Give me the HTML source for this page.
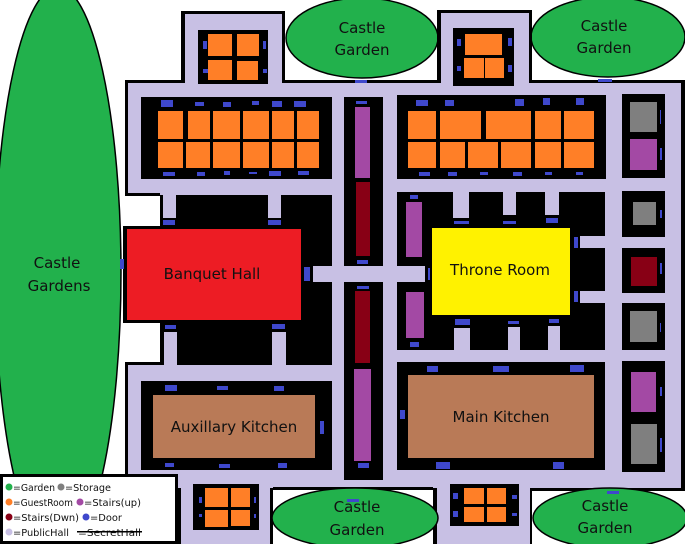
<!DOCTYPE html>
<html><head><meta charset="utf-8"><style>
html,body{margin:0;padding:0;background:#fff;}
svg{display:block}
text{font-family:"DejaVu Sans","Liberation Sans",sans-serif;fill:#111;}
</style></head><body>
<svg width="685" height="544" viewBox="0 0 685 544" xmlns="http://www.w3.org/2000/svg">
<ellipse cx="58" cy="272" rx="63" ry="285" fill="#22b14c" stroke="#000" stroke-width="1.5"/>
<ellipse cx="362" cy="38" rx="76" ry="40" fill="#22b14c" stroke="#000" stroke-width="1.5"/>
<ellipse cx="608" cy="37" rx="77" ry="40" fill="#22b14c" stroke="#000" stroke-width="1.5"/>
<g fill="#000">
<rect x="125" y="80" width="560" height="413"/>
<rect x="181" y="11" width="104" height="75"/>
<rect x="437" y="10" width="95" height="76"/>
<rect x="177" y="470" width="96" height="74"/>
<rect x="433" y="470" width="101" height="74"/>
</g>
<g fill="#c8c0e4">
<rect x="128" y="83" width="553" height="405"/>
<rect x="185" y="14" width="97" height="72"/>
<rect x="441" y="13" width="88" height="73"/>
<rect x="181" y="470" width="89" height="74"/>
<rect x="437" y="470" width="93" height="74"/>
</g>
<rect x="122" y="196" width="38" height="31" fill="#fff"/>
<rect x="122" y="323" width="38" height="40" fill="#fff"/>
<rect x="125" y="193" width="35" height="3" fill="#000"/>
<rect x="125" y="362" width="35" height="3" fill="#000"/>
<rect x="273" y="488" width="160" height="56" fill="#fff"/>
<rect x="273" y="487" width="160" height="3" fill="#000"/>
<rect x="532" y="490" width="153" height="54" fill="#fff"/>
<rect x="532" y="488" width="153" height="3" fill="#000"/>
<ellipse cx="355" cy="518" rx="83" ry="30" fill="#22b14c" stroke="#000" stroke-width="1.5"/>
<ellipse cx="610" cy="518" rx="77" ry="30" fill="#22b14c" stroke="#000" stroke-width="1.5"/>

<g fill="#000">
<rect x="198" y="30" width="70" height="54"/>
<rect x="453" y="28" width="61" height="58"/>
<rect x="193" y="484" width="66" height="46"/>
<rect x="450" y="484" width="69" height="42"/>
<rect x="141" y="97" width="191" height="82"/>
<rect x="344" y="97" width="39" height="169"/>
<rect x="344" y="282" width="39" height="198"/>
<rect x="397" y="95" width="209" height="84"/>
<rect x="622" y="94" width="43" height="84"/>
<rect x="622" y="191" width="43" height="46"/>
<rect x="622" y="248" width="43" height="45"/>
<rect x="622" y="303" width="43" height="47"/>
<rect x="622" y="361" width="43" height="111"/>
<rect x="160" y="195" width="172" height="170"/>
<rect x="123" y="226" width="183" height="97"/>
<rect x="397" y="192" width="208" height="158"/>
<rect x="141" y="381" width="191" height="89"/>
<rect x="397" y="362" width="208" height="108"/>
</g>
<g fill="#c8c0e4">
<rect x="163" y="195" width="13" height="23"/>
<rect x="268" y="195" width="13" height="23"/>
<rect x="164" y="332" width="13" height="33"/>
<rect x="272" y="332" width="14" height="33"/>
<rect x="313" y="266" width="112" height="16"/>
<rect x="453" y="192" width="16" height="26"/>
<rect x="503" y="192" width="13" height="23"/>
<rect x="545" y="192" width="14" height="23"/>
<rect x="580" y="236" width="25" height="12"/>
<rect x="580" y="291" width="25" height="12"/>
<rect x="454" y="328" width="16" height="22"/>
<rect x="508" y="327" width="12" height="23"/>
<rect x="548" y="326" width="12" height="24"/>
<rect x="397" y="268" width="10" height="14"/>
</g>
<g fill="#ff7f27">
<rect x="208" y="34" width="24" height="22"/><rect x="237" y="34" width="22" height="22"/>
<rect x="208" y="60" width="24" height="20"/><rect x="237" y="61" width="21" height="19"/>
<rect x="465" y="34" width="20" height="21"/><rect x="485" y="34" width="17" height="21"/>
<rect x="464" y="58" width="20" height="20"/><rect x="485" y="58" width="19" height="20"/>
<rect x="205" y="488" width="23" height="19"/><rect x="231" y="488" width="19" height="19"/>
<rect x="205" y="510" width="23" height="17"/><rect x="231" y="510" width="19" height="16"/>
<rect x="464" y="488" width="20" height="16"/><rect x="487" y="488" width="19" height="16"/>
<rect x="464" y="507" width="20" height="15"/><rect x="487" y="507" width="19" height="15"/>
<rect x="158" y="111" width="25" height="28"/><rect x="188" y="111" width="22" height="28"/><rect x="213" y="111" width="27" height="28"/><rect x="243" y="111" width="26" height="28"/><rect x="272" y="111" width="22" height="28"/><rect x="297" y="111" width="22" height="28"/>
<rect x="158" y="142" width="25" height="26"/><rect x="186" y="142" width="24" height="26"/><rect x="213" y="142" width="27" height="26"/><rect x="243" y="142" width="26" height="26"/><rect x="272" y="142" width="22" height="26"/><rect x="297" y="142" width="22" height="26"/>
<rect x="408" y="111" width="28" height="28"/><rect x="440" y="111" width="41" height="28"/><rect x="486" y="111" width="45" height="28"/><rect x="535" y="111" width="26" height="28"/><rect x="564" y="111" width="30" height="28"/>
<rect x="408" y="142" width="28" height="26"/><rect x="440" y="142" width="25" height="26"/><rect x="468" y="142" width="30" height="26"/><rect x="501" y="142" width="30" height="26"/><rect x="535" y="142" width="26" height="26"/><rect x="564" y="142" width="30" height="26"/>
</g>
<g>
<rect x="355" y="107" width="15" height="71" fill="#a349a4"/>
<rect x="356" y="182" width="14" height="74" fill="#880015"/>
<rect x="355" y="291" width="15" height="72" fill="#880015"/>
<rect x="354" y="369" width="17" height="92" fill="#a349a4"/>
<rect x="406" y="202" width="16" height="55" fill="#a349a4"/>
<rect x="406" y="292" width="18" height="46" fill="#a349a4"/>
<rect x="630" y="102" width="27" height="30" fill="#7f7f7f"/>
<rect x="630" y="139" width="27" height="31" fill="#a349a4"/>
<rect x="633" y="202" width="23" height="23" fill="#7f7f7f"/>
<rect x="631" y="257" width="26" height="29" fill="#880015"/>
<rect x="630" y="311" width="27" height="31" fill="#7f7f7f"/>
<rect x="631" y="372" width="25" height="40" fill="#a349a4"/>
<rect x="631" y="424" width="26" height="40" fill="#7f7f7f"/>
</g>
<rect x="127" y="229" width="174" height="91" fill="#ed1c24"/>
<rect x="432" y="228" width="138" height="87" fill="#fff200"/>
<rect x="153" y="395" width="162" height="63" fill="#b97a57"/>
<rect x="408" y="375" width="186" height="83" fill="#b97a57"/>
<g fill="#3f48cc">
<rect x="203" y="41" width="4" height="8"/><rect x="263" y="41" width="3" height="8"/><rect x="203" y="69" width="5" height="4"/><rect x="263" y="69" width="4" height="4"/>
<rect x="457" y="39" width="4" height="7"/><rect x="508" y="38" width="4" height="8"/><rect x="457" y="66" width="4" height="5"/><rect x="508" y="65" width="4" height="7"/>
<rect x="355" y="80" width="12" height="3"/><rect x="598" y="79" width="14" height="3"/>
<rect x="161" y="100" width="12" height="7"/><rect x="195" y="102" width="9" height="4"/><rect x="223" y="102" width="8" height="5"/><rect x="252" y="101" width="7" height="4"/><rect x="272" y="101" width="10" height="6"/><rect x="294" y="101" width="12" height="6"/>
<rect x="163" y="172" width="12" height="4"/><rect x="197" y="172" width="8" height="4"/><rect x="224" y="171" width="6" height="4"/><rect x="249" y="172" width="8" height="2"/><rect x="269" y="171" width="12" height="5"/><rect x="298" y="171" width="11" height="4"/>
<rect x="356" y="101" width="11" height="3"/><rect x="357" y="260" width="11" height="4"/><rect x="357" y="286" width="12" height="3"/><rect x="358" y="463" width="11" height="5"/>
<rect x="416" y="100" width="12" height="6"/><rect x="445" y="100" width="9" height="6"/><rect x="515" y="99" width="9" height="7"/><rect x="543" y="98" width="7" height="7"/><rect x="576" y="98" width="8" height="7"/>
<rect x="419" y="172" width="11" height="4"/><rect x="448" y="172" width="9" height="4"/><rect x="480" y="172" width="8" height="3"/><rect x="513" y="172" width="9" height="4"/><rect x="545" y="172" width="7" height="3"/><rect x="576" y="172" width="7" height="3"/>
<rect x="660" y="110" width="1" height="14"/><rect x="660" y="148" width="2" height="12"/><rect x="660" y="210" width="2" height="8"/><rect x="660" y="263" width="2" height="11"/><rect x="660" y="323" width="1" height="9"/><rect x="660" y="387" width="2" height="9"/><rect x="660" y="438" width="2" height="14"/>
<rect x="163" y="220" width="12" height="5"/><rect x="268" y="220" width="13" height="5"/><rect x="165" y="325" width="11" height="4"/><rect x="272" y="324" width="13" height="5"/>
<rect x="120" y="259" width="4" height="10"/><rect x="304" y="267" width="6" height="14"/>
<rect x="410" y="195" width="8" height="4"/><rect x="410" y="342" width="9" height="5"/><rect x="428" y="268" width="2" height="12"/>
<rect x="454" y="221" width="15" height="3"/><rect x="503" y="221" width="13" height="3"/><rect x="546" y="218" width="12" height="5"/>
<rect x="574" y="237" width="4" height="11"/><rect x="574" y="291" width="4" height="11"/>
<rect x="455" y="319" width="15" height="6"/><rect x="508" y="321" width="11" height="3"/><rect x="549" y="319" width="10" height="4"/>
<rect x="165" y="385" width="12" height="6"/><rect x="217" y="386" width="11" height="4"/><rect x="274" y="386" width="10" height="5"/>
<rect x="165" y="463" width="9" height="4"/><rect x="219" y="464" width="11" height="4"/><rect x="278" y="463" width="9" height="5"/>
<rect x="320" y="421" width="4" height="13"/>
<rect x="427" y="366" width="11" height="6"/><rect x="493" y="366" width="16" height="6"/><rect x="570" y="365" width="14" height="7"/>
<rect x="400" y="410" width="5" height="9"/><rect x="436" y="462" width="14" height="7"/><rect x="553" y="462" width="11" height="7"/>
<rect x="199" y="497" width="3" height="6"/><rect x="199" y="514" width="3" height="3"/><rect x="254" y="497" width="2" height="6"/><rect x="254" y="514" width="2" height="4"/>
<rect x="453" y="493" width="5" height="6"/><rect x="453" y="511" width="5" height="6"/><rect x="512" y="495" width="5" height="4"/><rect x="512" y="513" width="5" height="3"/>
<rect x="347" y="499" width="12" height="3"/><rect x="607" y="491" width="12" height="3"/>
</g>
<g font-size="15">
<text x="362" y="33" text-anchor="middle">Castle</text><text x="362" y="55" text-anchor="middle">Garden</text>
<text x="604" y="31" text-anchor="middle">Castle</text><text x="604" y="53" text-anchor="middle">Garden</text>
<text x="57" y="268" text-anchor="middle">Castle</text><text x="59" y="291" text-anchor="middle">Gardens</text>
<text x="212" y="279" text-anchor="middle">Banquet Hall</text>
<text x="500" y="275" text-anchor="middle">Throne Room</text>
<text x="234" y="432" text-anchor="middle">Auxillary Kitchen</text>
<text x="501" y="422" text-anchor="middle">Main Kitchen</text>
<text x="357" y="512" text-anchor="middle">Castle</text><text x="357" y="535" text-anchor="middle">Garden</text>
<text x="605" y="511" text-anchor="middle">Castle</text><text x="605" y="533" text-anchor="middle">Garden</text>
</g>
<rect x="1.5" y="475.5" width="175" height="67" fill="#fff" stroke="#000" stroke-width="3"/>
<g font-size="10">
<circle cx="9" cy="487" r="3.5" fill="#22b14c"/><text x="13" y="491" textLength="42" lengthAdjust="spacingAndGlyphs">=Garden</text>
<circle cx="61" cy="487" r="3.5" fill="#7f7f7f"/><text x="65" y="491" textLength="46" lengthAdjust="spacingAndGlyphs">=Storage</text>
<circle cx="9" cy="502" r="3.5" fill="#ff7f27"/><text x="13" y="506" textLength="60" lengthAdjust="spacingAndGlyphs">=GuestRoom</text>
<circle cx="80" cy="502" r="3.5" fill="#a349a4"/><text x="84" y="506" textLength="57" lengthAdjust="spacingAndGlyphs">=Stairs(up)</text>
<circle cx="9" cy="517" r="3.5" fill="#880015"/><text x="13" y="521" textLength="66" lengthAdjust="spacingAndGlyphs">=Stairs(Dwn)</text>
<circle cx="86" cy="517" r="3.5" fill="#3f48cc"/><text x="90" y="521" textLength="32" lengthAdjust="spacingAndGlyphs">=Door</text>
<circle cx="9" cy="532" r="3.5" fill="#c8c0e4"/><text x="13" y="536" textLength="56" lengthAdjust="spacingAndGlyphs">=PublicHall</text>
<text x="78" y="536" textLength="63" lengthAdjust="spacingAndGlyphs">=SecretHall</text>
<rect x="77" y="531" width="65" height="1.5" fill="#000"/>
</g>
</svg>
</body></html>
